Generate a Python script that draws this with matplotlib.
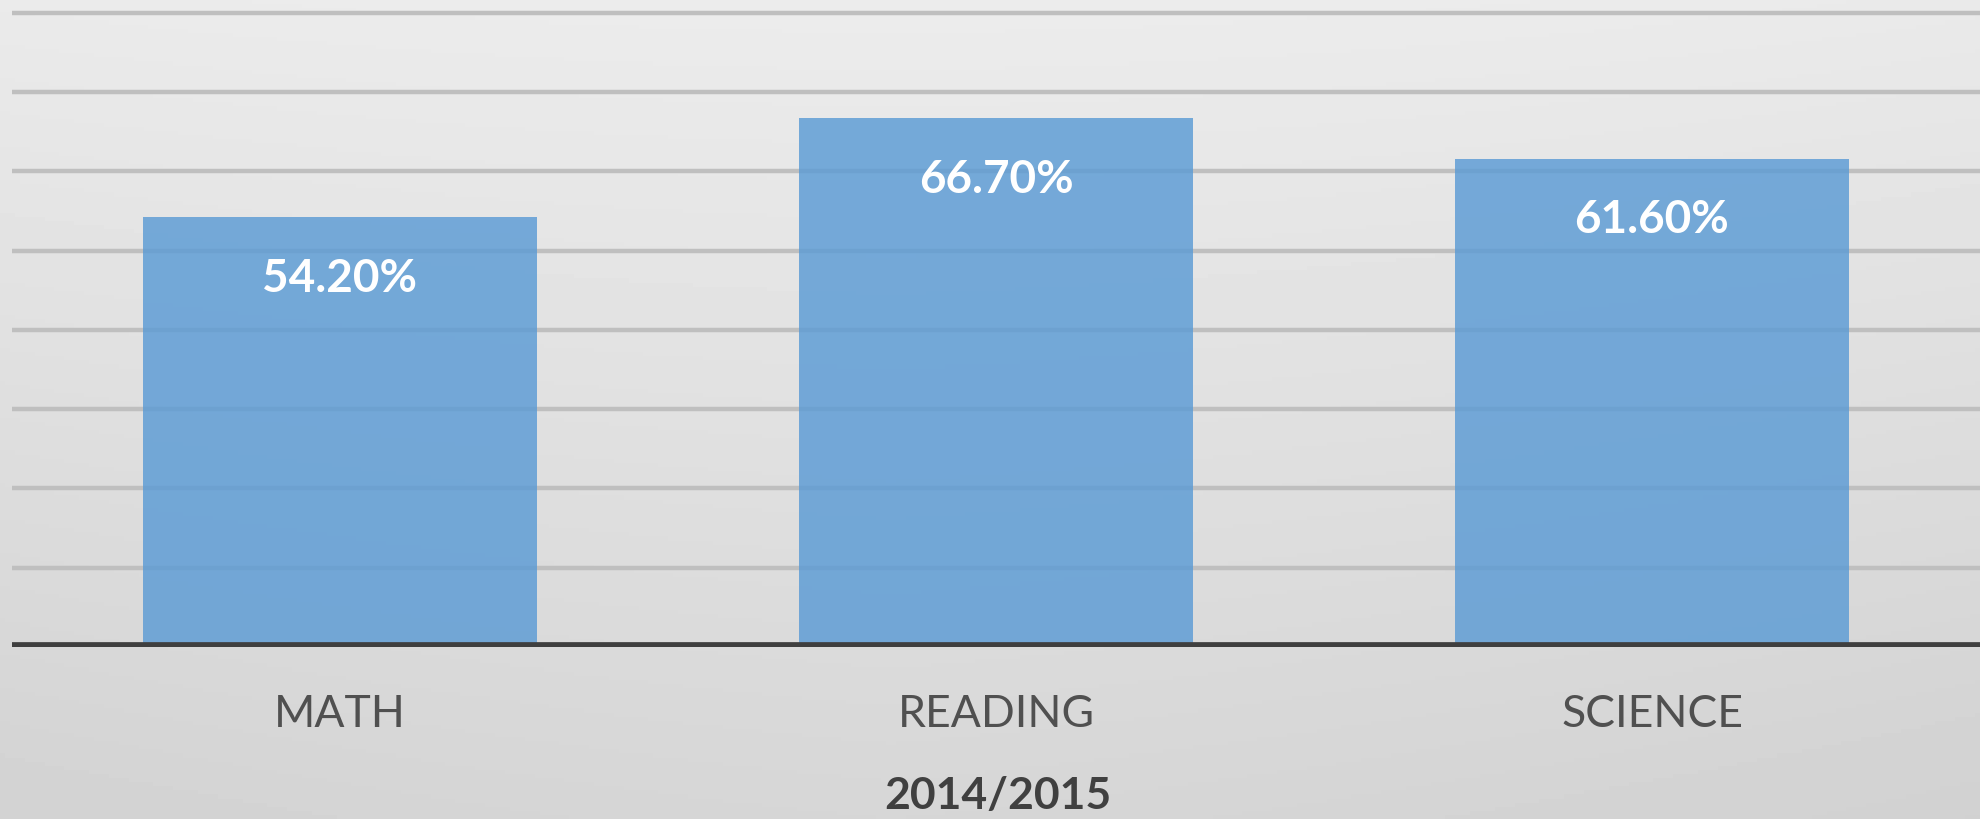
import numpy as np
import matplotlib
matplotlib.use('Agg')
import matplotlib.pyplot as plt

categories = ['MATH', 'READING', 'SCIENCE']
values = [54.2, 66.7, 61.6]
value_labels = ['54.20%', '66.70%', '61.60%']
year_label = '2014/2015'
grid_ticks = [10, 20, 30, 40, 50, 60, 70, 80]

plt.rcParams['font.family'] = ['Lato', 'DejaVu Sans']

fig = plt.figure(figsize=(19.8, 8.19), dpi=100)

# soft gray gradient background
bg = fig.add_axes([0, 0, 1, 1], zorder=-10)
yy, xx = np.mgrid[0:1:200j, 0:1:400j]
shade = 0.925 - 0.085 * yy - 0.03 * (xx - 0.45) ** 2 - 0.02 * np.abs(xx - 0.45) * yy
bg.imshow(shade, cmap='gray', vmin=0, vmax=1, aspect='auto', extent=[0, 1, 0, 1])
bg.axis('off')

ax = fig.add_axes([12 / 1980, 172 / 819, 1 - 12 / 1980, 1 - 172 / 819])
ax.patch.set_alpha(0)

x = np.arange(len(categories))
for g in grid_ticks:
    ax.axhline(g, color='#bfbfbf', lw=3.2, zorder=1)

bars = ax.bar(x, values, width=0.6, color='#5B9BD5', alpha=0.82, zorder=2)
ax.axhline(0, color='#3f3f3f', lw=7, zorder=3)

for b, lab in zip(bars, value_labels):
    ax.text(b.get_x() + b.get_width() / 2, b.get_height() - 7.8, lab,
            ha='center', va='center', color='white', fontsize=33,
            fontweight='bold', zorder=4)

ax.set_xlim(-0.5, 2.5)
ax.set_ylim(0, 81.6)
ax.set_yticks([])
ax.set_xticks(x)
ax.set_xticklabels(categories, fontsize=32, color='#505050')
ax.tick_params(axis='x', length=0, pad=34)
for s in ax.spines.values():
    s.set_visible(False)

fig.text(998 / 1980, 1 - 796 / 819, year_label, ha='center', va='center',
         fontsize=32, fontweight='bold', color='#404040')

fig.savefig('out.png', dpi=100)
